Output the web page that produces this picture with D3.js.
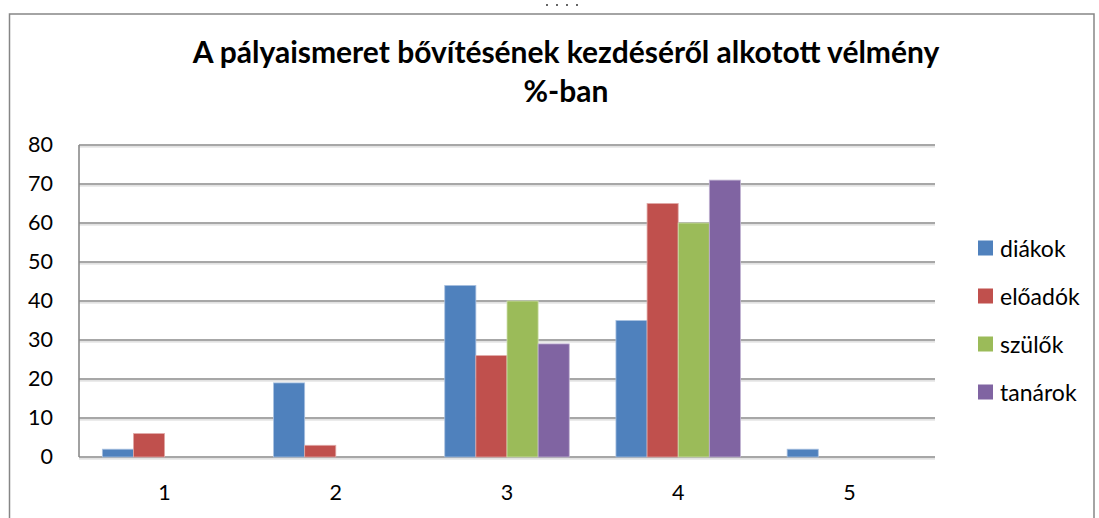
<!DOCTYPE html>
<html>
<head>
<meta charset="utf-8">
<script src="https://cdn.jsdelivr.net/npm/d3@7"></script>
<style>
  body { margin: 0; background: #fff; }
  text { font-family: Lato, "Open Sans", sans-serif; }
</style>
</head>
<body>
<div id="chart"></div>
<script>
// data
const categories = ["1", "2", "3", "4", "5"];
const seriesNames = ["diákok", "előadók", "szülők", "tanárok"];
const diakok  = [2, 19, 44, 35, 2];
const eloadok = [6, 3, 26, 65, 0];
const szulok  = [0, 0, 40, 60, 0];
const tanarok = [0, 0, 29, 71, 0];
const yTicks = [0, 10, 20, 30, 40, 50, 60, 70, 80];
const titleLines = ["A pályaismeret bővítésének kezdéséről alkotott vélmény", "%-ban"];

const colors = ["#4F81BD", "#C0504D", "#9BBB59", "#8064A2"];
const edge = ["#a9c1e0", "#e0a9a7", "#cfe0ae", "#c0b3d2"];

const W = 1099, H = 518;
const plot = { left: 79, right: 935, top: 145, bottom: 457 };

const svg = d3.select("#chart").append("svg")
    .attr("width", W)
    .attr("height", H);

// outer frame
svg.append("rect")
    .attr("x", 9.5).attr("y", 14)
    .attr("width", 1084.5).attr("height", 530)
    .attr("fill", "none")
    .attr("stroke", "#868686")
    .attr("stroke-width", 1.5);

// the little dots above the frame
svg.append("g").selectAll("circle")
    .data([547, 557, 567, 577])
    .enter().append("circle")
    .attr("cx", d => d).attr("cy", 5).attr("r", 1)
    .attr("fill", "#333");

// title
const title = svg.append("g");
titleLines.forEach((t, i) => {
    title.append("text")
        .attr("x", 566)
        .attr("y", 63 + i * 39)
        .attr("text-anchor", "middle")
        .attr("font-weight", "bold")
        .attr("font-size", 24)
        .attr("fill", "#000")
        .text(t);
});
// fit first line to the width seen in the reference
let t0 = title.select("text").node();
let len = t0.getComputedTextLength();
if (len) {
    let fs = 24 * 747 / len;
    title.selectAll("text").attr("font-size", fs);
}

// scales
const x = d3.scaleBand().domain(categories).range([plot.left, plot.right]);
const xs = d3.scaleBand().domain(seriesNames).range([0, x.bandwidth()])
    .paddingInner(0).paddingOuter(0.75);
const y = d3.scaleLinear().domain([0, 80]).range([plot.bottom, plot.top]);

// gridlines
const grid = svg.append("g");
grid.selectAll("line.shadow")
    .data(yTicks).enter().append("line")
    .attr("class", "shadow")
    .attr("x1", plot.left).attr("x2", plot.right)
    .attr("y1", d => y(d) + 1.8).attr("y2", d => y(d) + 1.8)
    .attr("stroke", "#d8d8d8").attr("stroke-width", 1.2);
grid.selectAll("line.main")
    .data(yTicks).enter().append("line")
    .attr("class", "main")
    .attr("x1", plot.left).attr("x2", plot.right)
    .attr("y1", d => y(d)).attr("y2", d => y(d))
    .attr("stroke", "#8a8a8a").attr("stroke-width", 1.6);

// left axis line
svg.append("line")
    .attr("x1", plot.left).attr("x2", plot.left)
    .attr("y1", plot.top).attr("y2", plot.bottom)
    .attr("stroke", "#8a8a8a").attr("stroke-width", 1.6);

// bars
const allSeries = [diakok, eloadok, szulok, tanarok];
const rows = [];
categories.forEach((c, ci) => {
    seriesNames.forEach((s, si) => {
        rows.push({ cat: c, name: s, idx: si, value: allSeries[si][ci] });
    });
});

svg.append("g").selectAll("rect")
    .data(rows.filter(d => d.value > 0))
    .enter().append("rect")
    .attr("x", d => x(d.cat) + xs(d.name))
    .attr("y", d => y(d.value))
    .attr("width", xs.bandwidth())
    .attr("height", d => y(0) - y(d.value))
    .attr("fill", d => colors[d.idx])
    .attr("stroke", d => edge[d.idx])
    .attr("stroke-width", 0.8);

// y axis labels
const yAxis = d3.axisLeft(y).tickValues(yTicks).tickSize(0).tickPadding(0);
const gy = svg.append("g")
    .attr("transform", "translate(53,0)")
    .call(yAxis);
gy.select(".domain").remove();
gy.selectAll("text")
    .attr("font-family", "Lato, 'Open Sans', sans-serif")
    .attr("font-size", 21.5)
    .attr("fill", "#000");

// x axis labels
const xAxis = d3.axisBottom(x).tickSize(0).tickPadding(0);
const gx = svg.append("g")
    .attr("transform", "translate(0,485)")
    .call(xAxis);
gx.select(".domain").remove();
gx.selectAll("text")
    .attr("font-family", "Lato, 'Open Sans', sans-serif")
    .attr("font-size", 21.5)
    .attr("fill", "#000");

// legend
const legend = svg.append("g").attr("transform", "translate(978, 0)");
const items = legend.selectAll("g")
    .data(seriesNames)
    .enter().append("g")
    .attr("transform", (d, i) => `translate(0, ${248 + i * 48})`);
items.append("rect")
    .attr("x", 0).attr("y", -7.5)
    .attr("width", 15).attr("height", 15)
    .attr("fill", (d, i) => colors[i]);
items.append("text")
    .attr("x", 22).attr("y", 1)
    .attr("dy", "0.35em")
    .attr("font-size", 23)
    .attr("fill", "#000")
    .text(d => d);
</script>
</body>
</html>
